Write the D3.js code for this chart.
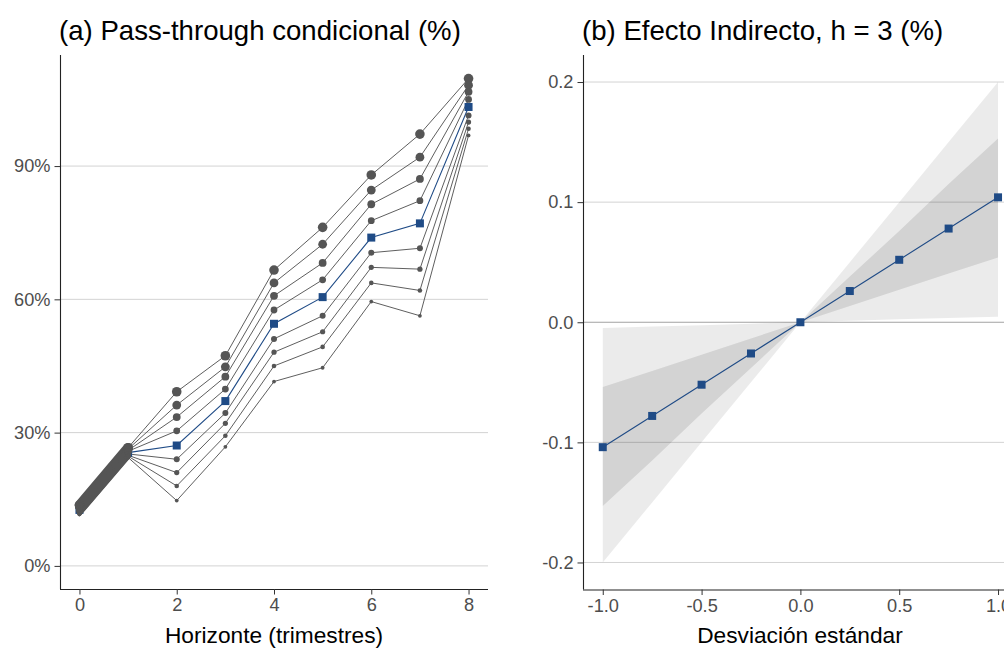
<!DOCTYPE html>
<html lang="es">
<head>
    <meta charset="UTF-8">
    <title>Pass-through condicional</title>
    <script src="https://d3js.org/d3.v7.min.js"></script>
    <style>
        body { margin: 0; background: #fff; }
        svg { display: block; font-family: "Liberation Sans", Arial, sans-serif; }
    </style>
</head>
<body>
    <svg width="1004" height="649"></svg>
    <script>
        // ---- data: panel (a) ----
        const horizons = [0, 1, 2, 3, 4, 5, 6, 7, 8];
        // from top to bottom; index 4 is the central (blue) path
        const pt1 = [13.7, 26.6, 39.2, 47.3, 66.6, 76.2, 88.0, 97.2, 109.7];
        const pt2 = [13.4, 26.3, 36.2, 44.8, 63.7, 72.4, 84.6, 92.0, 108.2];
        const pt3 = [13.2, 26.0, 33.5, 42.6, 60.8, 68.2, 81.4, 87.1, 106.7];
        const pt4 = [12.9, 25.8, 30.4, 39.8, 57.6, 64.4, 77.7, 82.2, 105.0];
        const ptBase = [12.6, 25.5, 27.1, 37.1, 54.5, 60.5, 73.9, 77.1, 103.3];
        const pt6 = [12.4, 25.2, 24.0, 34.4, 51.1, 56.3, 70.5, 71.5, 101.4];
        const pt7 = [12.1, 24.9, 21.0, 32.1, 48.1, 52.7, 67.2, 66.8, 99.9];
        const pt8 = [11.9, 24.7, 18.0, 29.3, 45.0, 49.3, 63.7, 62.0, 98.4];
        const pt9 = [11.6, 24.4, 14.7, 26.8, 41.5, 44.6, 59.5, 56.3, 96.9];
        const ptTicks = [0, 30, 60, 90];
        const hTicks = [0, 2, 4, 6, 8];

        // ---- data: panel (b) ----
        const sd = [-1, -0.75, -0.5, -0.25, 0, 0.25, 0.5, 0.75, 1];
        const effect = [-0.104, -0.078, -0.052, -0.026, 0, 0.026, 0.052, 0.078, 0.104];
        const lo68 = [-0.153, -0.115, -0.076, -0.038, 0, 0.0135, 0.027, 0.0405, 0.054];
        const hi68 = [-0.054, -0.0405, -0.027, -0.0135, 0, 0.038, 0.076, 0.115, 0.153];
        const lo95 = [-0.2, -0.15, -0.1, -0.05, 0, 0.0012, 0.0024, 0.0035, 0.0045];
        const hi95 = [-0.0047, -0.0035, -0.0024, -0.0012, 0, 0.05, 0.1, 0.15, 0.2];
        const effTicks = [-0.2, -0.1, 0, 0.1, 0.2];
        const sdTicks = [-1, -0.5, 0, 0.5, 1];

        const grey = "#555555";
        const blue = "#1f4b86";
        const svg = d3.select("svg");

        // ================= panel (a) =================
        const xa = d3.scaleLinear().domain([-0.4, 8.4]).range([60, 488]);
        const ya = d3.scaleLinear().domain([-5.2, 115]).range([589, 55]);

        const pa = svg.append("g");
        pa.selectAll(".grid").data(ptTicks).enter().append("line")
            .attr("x1", 60).attr("x2", 488)
            .attr("y1", d => ya(d)).attr("y2", d => ya(d))
            .attr("stroke", "#d3d3d3").attr("stroke-width", 1);

        const series = [pt1, pt2, pt3, pt4, ptBase, pt6, pt7, pt8, pt9];
        const radii = [4.8, 4.4, 3.9, 3.4, 0, 3.0, 2.6, 2.3, 1.9];
        const lineA = d3.line().x((d, i) => xa(horizons[i])).y(d => ya(d));

        // thin lines
        series.forEach((s, k) => {
            pa.append("path").attr("d", lineA(s)).attr("fill", "none")
                .attr("stroke", k === 4 ? blue : grey)
                .attr("stroke-width", k === 4 ? 1.1 : 0.95);
        });
        // blue squares
        pa.selectAll(".sq").data(ptBase).enter().append("rect")
            .attr("x", (d, i) => xa(horizons[i]) - 4)
            .attr("y", d => ya(d) - 4)
            .attr("width", 8).attr("height", 8).attr("fill", blue);
        // first quarter: overlapping points form a thick band
        series.forEach((s, k) => {
            if (k === 4) return;
            pa.append("path").attr("d", lineA(s.slice(0, 2))).attr("fill", "none")
                .attr("stroke", grey).attr("stroke-width", radii[k] * 2)
                .attr("stroke-linecap", "round");
        });
        // dots
        series.forEach((s, k) => {
            if (k === 4) return;
            pa.selectAll(null).data(s).enter().append("circle")
                .attr("cx", (d, i) => xa(horizons[i]))
                .attr("cy", d => ya(d))
                .attr("r", radii[k]).attr("fill", grey);
        });

        // axes
        const axA = d3.axisLeft(ya).tickValues(ptTicks).tickSize(5.5).tickPadding(4)
            .tickFormat(d => d + "%");
        const gyA = pa.append("g").attr("transform", "translate(60,0)").call(axA);
        const axXA = d3.axisBottom(xa).tickValues(hTicks).tickSize(5.5).tickPadding(4);
        const gxA = pa.append("g").attr("transform", "translate(0,589)").call(axXA);

        // ================= panel (b) =================
        const xb = d3.scaleLinear().domain([-1.1, 1.1]).range([583, 1017.8]);
        const yb = d3.scaleLinear().domain([-0.2225, 0.2225]).range([589.5, 55]);

        const pb = svg.append("g");
        pb.selectAll(".grid").data(effTicks.filter(d => d !== 0)).enter().append("line")
            .attr("x1", 583).attr("x2", 1018)
            .attr("y1", d => yb(d)).attr("y2", d => yb(d))
            .attr("stroke", "#d3d3d3").attr("stroke-width", 1);
        pb.append("line")
            .attr("x1", 583).attr("x2", 1018)
            .attr("y1", yb(0)).attr("y2", yb(0))
            .attr("stroke", "#a3a3a3").attr("stroke-width", 1);

        const band = (lo, hi) => d3.area()
            .x((d, i) => xb(sd[i]))
            .y0((d, i) => yb(lo[i]))
            .y1((d, i) => yb(hi[i]))(sd);
        pb.append("path").attr("d", band(lo95, hi95)).attr("fill", "#000").attr("fill-opacity", 0.08);
        pb.append("path").attr("d", band(lo68, hi68)).attr("fill", "#000").attr("fill-opacity", 0.1);

        const lineB = d3.line().x((d, i) => xb(sd[i])).y(d => yb(d));
        pb.append("path").attr("d", lineB(effect)).attr("fill", "none")
            .attr("stroke", blue).attr("stroke-width", 1.1);
        pb.selectAll(".sq").data(effect).enter().append("rect")
            .attr("x", (d, i) => xb(sd[i]) - 4)
            .attr("y", d => yb(d) - 4)
            .attr("width", 8).attr("height", 8).attr("fill", blue);

        const axB = d3.axisLeft(yb).tickValues(effTicks).tickSize(5.5).tickPadding(4)
            .tickFormat(d3.format(".1f"));
        const gyB = pb.append("g").attr("transform", "translate(583,0)").call(axB);
        const axXB = d3.axisBottom(xb).tickValues(sdTicks).tickSize(5.5).tickPadding(4)
            .tickFormat(d3.format(".1f"));
        const gxB = pb.append("g").attr("transform", "translate(0,589.5)").call(axXB);

        // axis styling (ggplot-like)
        [gyA, gxA, gyB, gxB].forEach(g => {
            g.select(".domain").attr("stroke", "#222").attr("stroke-width", 1.1);
            g.selectAll(".tick line").attr("stroke", "#333");
            g.selectAll(".tick text").attr("fill", "#4d4d4d")
                .style("font-size", "18.2px")
                .text(function () { return this.textContent.replace("\u2212", "-"); });
        });
        // the y domain in ggplot spans the whole panel, no outer ticks
        gyA.select(".domain").attr("d", "M0.5,55V589");
        gxA.select(".domain").attr("d", "M60,0.5H488");
        gyB.select(".domain").attr("d", "M0.5,55V589.5");
        gxB.select(".domain").attr("d", "M583,0.5H1018");

        // titles
        svg.append("text").attr("x", 59).attr("y", 39.5)
            .style("font-size", "27.6px").attr("fill", "#000")
            .text("(a) Pass-through condicional (%)");
        svg.append("text").attr("x", 582).attr("y", 39.5)
            .style("font-size", "27.6px").attr("fill", "#000")
            .text("(b) Efecto Indirecto, h = 3 (%)");
        svg.append("text").attr("x", 274).attr("y", 643)
            .attr("text-anchor", "middle")
            .style("font-size", "22.7px").attr("fill", "#000")
            .text("Horizonte (trimestres)");
        svg.append("text").attr("x", 800).attr("y", 643)
            .attr("text-anchor", "middle")
            .style("font-size", "22.7px").attr("fill", "#000")
            .text("Desviación estándar");
    </script>
</body>
</html>
